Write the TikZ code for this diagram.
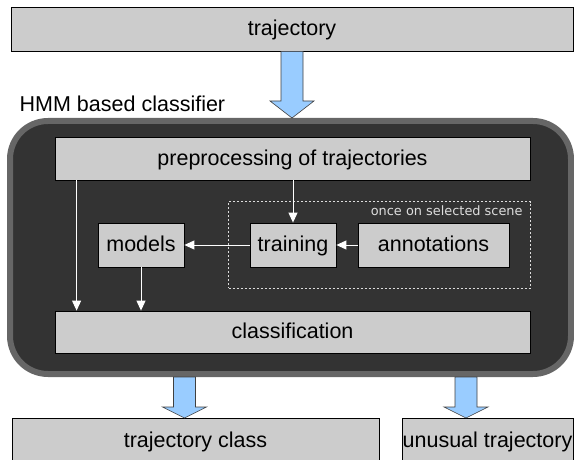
\documentclass[tikz,border=0pt]{standalone}
\usepackage{fontspec}
\setmainfont{Liberation Sans}
\newfontfamily\notefont{DejaVu Sans}
\usetikzlibrary{arrows.meta,positioning,fit,calc}

\definecolor{boxgray}{HTML}{CCCCCC}
\definecolor{darkfill}{HTML}{333333}
\definecolor{rimgray}{HTML}{666666}
\definecolor{arrowblue}{HTML}{99CCFF}
\definecolor{notegray}{HTML}{DDDDDD}

% fat block arrow: from, to, half shaft, half head, head length
\newcommand{\fatarrow}[5]{%
  \draw[fat] let \p1=(#1), \p2=(#2) in
    (\x1-#3,\y1) -- (\x1+#3,\y1) -- (\x1+#3,\y2+#5) -- (\x1+#4,\y2+#5)
    -- (\x1,\y2) -- (\x1-#4,\y2+#5) -- (\x1-#3,\y2+#5) -- cycle;}

\begin{document}
\begin{tikzpicture}[
  x=1pt, y=-1pt,
  font=\fontsize{21.5}{25}\selectfont,
  block/.style={draw=black, line width=0.8pt, fill=boxgray, inner sep=0pt,
                align=center, text height=16pt, text depth=3pt},
  outbox/.style={block, anchor=north, inner ysep=4pt, text height=25pt,
                 text depth=25pt},
  frame/.style={draw=rimgray, fill=darkfill, line width=6pt,
                rounded corners=38pt, inner sep=0pt},
  dashbox/.style={draw=notegray, line width=0.8pt,
                  dash pattern=on 2pt off 2pt, inner sep=21pt},
  note/.style={font=\notefont\fontsize{12.9}{15}\selectfont, text=notegray},
  arr/.style={draw=white, line width=0.9pt,
              -{Triangle[length=10pt,width=9pt]}},
  fat/.style={draw=black!75, line width=0.6pt, fill=arrowblue}
]
\useasboundingbox (0,0) rectangle (574,460);
\clip (0,0) rectangle (574,460);

% ---------- input ----------
\node[block, minimum width=562pt, minimum height=44pt] (traj) at (292,29)
  {trajectory};

% ---------- classifier frame ----------
\node[frame, minimum width=561pt, minimum height=253pt,
      label={[anchor=base west, inner sep=0pt, xshift=12.5pt, yshift=6pt]
             north west:HMM based classifier}] (hmm) at (290.5,247.5) {};

\node[block, minimum width=475pt, minimum height=43pt] (pre) at (292.5,158.5)
  {preprocessing of trajectories};
\node[block, minimum width=86pt, minimum height=44pt] (models) at (141,245)
  {models};
\node[block, minimum width=86pt, minimum height=44pt] (train) at (293,245)
  {training};
\node[block, minimum width=151pt, minimum height=44pt] (annot) at (433.5,245)
  {annotations};
\node[block, minimum width=475pt, minimum height=42pt] (cls) at (292.5,332)
  {classification};

\node[dashbox, fit=(train)(annot),
      label={[note, anchor=north east, inner sep=0pt, xshift=-8pt, yshift=-4pt]
             north east:once on selected scene}] (scene) {};

\draw[arr] ([xshift=22pt]pre.south west) -- ([xshift=22pt]cls.north west);
\draw[arr] (models.south) -- (models.south |- cls.north);
\draw[arr] (pre.south -| train.north) -- (train.north);
\draw[arr] (train.west) -- (models.east);
\draw[arr] (annot.west) -- (train.east);

% ---------- outputs ----------
\node[outbox, minimum width=367pt] (tcls) at (195.5,418) {trajectory class};
\node[outbox, minimum width=171pt] (unus) at (487.5,418) {unusual trajectory};

% ---------- fat arrows ----------
\fatarrow{traj.south}{traj.south |- hmm.north}{11pt}{22pt}{17pt}
\fatarrow{$(hmm.south -| tcls.north)+(-11,0)$}{$(tcls.north)+(-11,0)$}{11pt}{22pt}{11pt}
\fatarrow{$(hmm.south -| unus.north)+(-21.5,0)$}{$(unus.north)+(-21.5,0)$}{11pt}{22pt}{11pt}

\end{tikzpicture}
\end{document}
